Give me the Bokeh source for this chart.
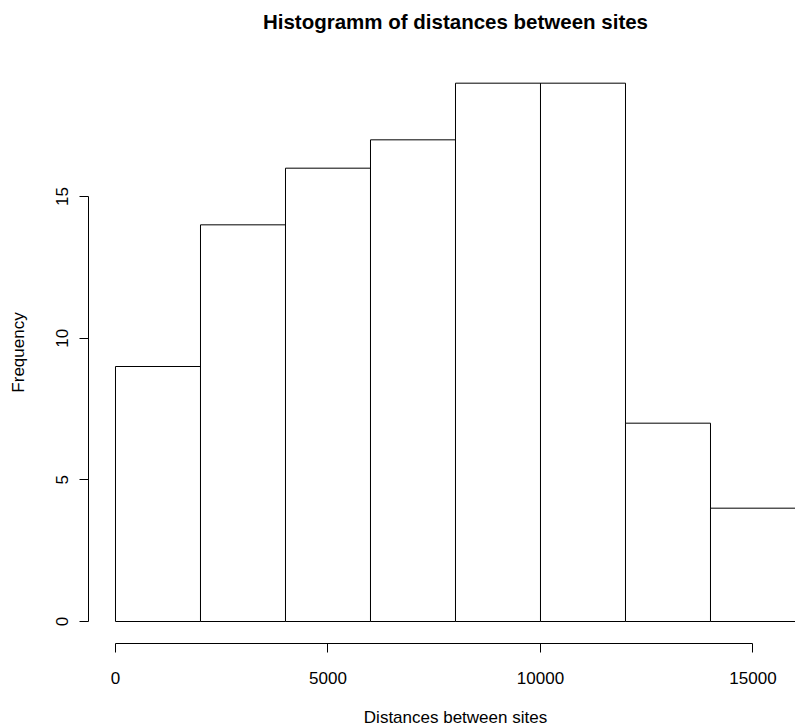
from bokeh.plotting import figure
from bokeh.models import Range1d, FixedTicker
from bokeh.layouts import column
from bokeh.core.properties import value
from bokeh.embed import file_html
from bokeh.resources import INLINE

# Data
bin_edges = [0, 2000, 4000, 6000, 8000, 10000, 12000, 14000, 16000]
counts = [9, 14, 16, 17, 19, 19, 7, 4]
x_ticks = [0, 5000, 10000, 15000]
x_tick_labels = ["0", "5000", "10000", "15000"]
y_ticks = [0, 5, 10, 15]
y_tick_labels = ["0", "5", "10", "15"]

title_text = "Histogramm of distances between sites"
x_label = "Distances between sites"
y_label = "Frequency"

FONT = "Liberation Sans"
W = 795
TOP_H = 61
MAIN_H = 634
BOT_H = 727 - TOP_H - MAIN_H

x_range = Range1d(-635, 16000)
x_mid = (bin_edges[0] + bin_edges[-1]) / 2


def strip(fig):
    fig.background_fill_color = "white"
    fig.border_fill_color = "white"
    fig.outline_line_color = None
    fig.grid.visible = False
    return fig


# ---- title strip ----
top = strip(figure(width=W, height=TOP_H, output_backend="svg",
                   toolbar_location=None, title=None,
                   x_range=x_range, y_range=Range1d(0, TOP_H),
                   x_axis_type=None, y_axis_type=None,
                   min_border_left=88, min_border_right=0,
                   min_border_top=0, min_border_bottom=0))
top.text(x=[x_mid], y=[TOP_H - 20.5], text=[title_text],
         text_align="center", text_baseline="middle",
         text_font=value(FONT), text_font_size="20.5px",
         text_font_style="bold", text_color="black")

# ---- main histogram ----
p_main = strip(figure(width=W, height=MAIN_H, output_backend="svg",
                      toolbar_location=None, title=None,
                      x_range=x_range, y_range=Range1d(-0.776, 19.765),
                      min_border_left=88, min_border_right=0,
                      min_border_top=0, min_border_bottom=52))

p_main.quad(left=bin_edges[:-1], right=bin_edges[1:], bottom=0, top=counts,
            fill_color="white", line_color="black", line_width=1)

xa = p_main.xaxis[0]
xa.ticker = FixedTicker(ticks=x_ticks)
xa.major_label_overrides = {t: l for t, l in zip(x_ticks, x_tick_labels)}
xa.bounds = (x_ticks[0], x_ticks[-1])
xa.minor_tick_line_color = None
xa.major_tick_in = 0
xa.major_tick_out = 9
xa.major_label_standoff = 19
xa.major_label_text_font = FONT
xa.major_label_text_font_size = "17px"
xa.major_label_text_color = "black"
xa.axis_line_color = "black"
xa.major_tick_line_color = "black"

ya = p_main.yaxis[0]
ya.ticker = FixedTicker(ticks=y_ticks)
ya.major_label_overrides = {t: l for t, l in zip(y_ticks, y_tick_labels)}
ya.bounds = (y_ticks[0], y_ticks[-1])
ya.minor_tick_line_color = None
ya.major_tick_in = 0
ya.major_tick_out = 9
ya.major_label_standoff = 11
ya.major_label_orientation = "vertical"
ya.major_label_text_font = FONT
ya.major_label_text_font_size = "17px"
ya.major_label_text_color = "black"
ya.axis_line_color = "black"
ya.major_tick_line_color = "black"
ya.axis_label = y_label
ya.axis_label_text_font = FONT
ya.axis_label_text_font_size = "17px"
ya.axis_label_text_font_style = "normal"
ya.axis_label_text_color = "black"
ya.axis_label_standoff = 26

# ---- x-axis label strip ----
bot = strip(figure(width=W, height=BOT_H, output_backend="svg",
                   toolbar_location=None, title=None,
                   x_range=x_range, y_range=Range1d(0, BOT_H),
                   x_axis_type=None, y_axis_type=None,
                   min_border_left=88, min_border_right=0,
                   min_border_top=0, min_border_bottom=0))
bot.text(x=[x_mid], y=[BOT_H - 21.5], text=[x_label],
         text_align="center", text_baseline="middle",
         text_font=value(FONT), text_font_size="17px",
         text_font_style="normal", text_color="black")

p = column(top, p_main, bot, spacing=0)

open("out.html", "w").write(file_html(p, INLINE))
